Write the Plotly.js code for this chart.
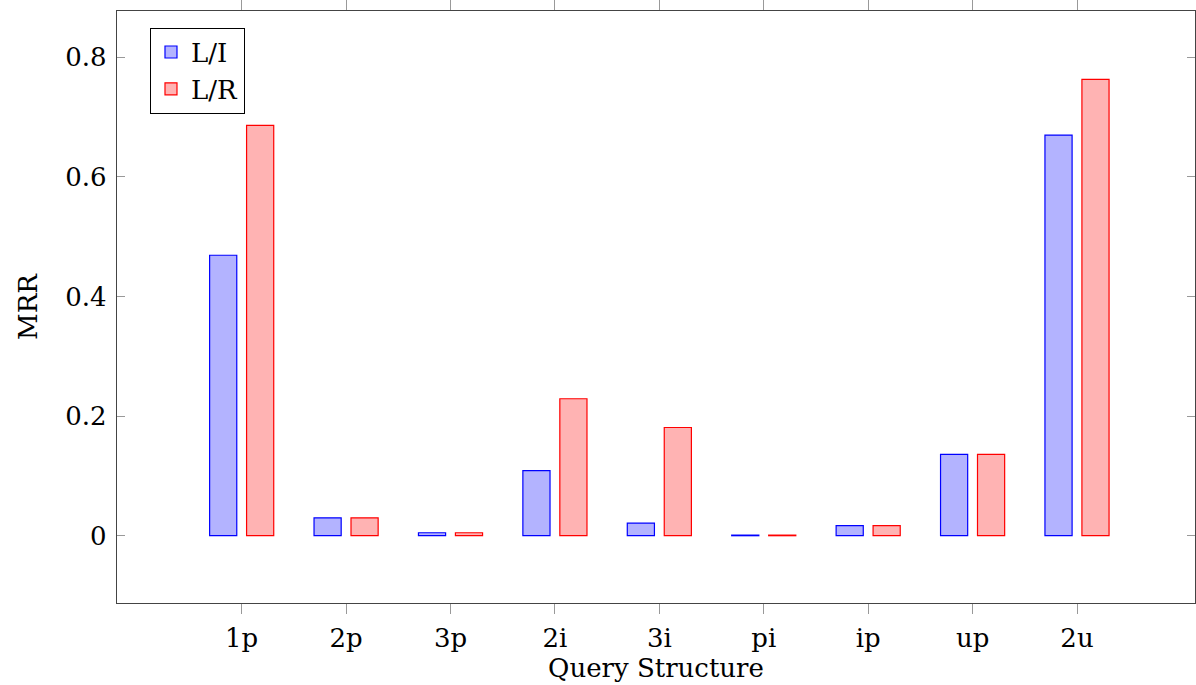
<!DOCTYPE html>
<html>
<head>
<meta charset="utf-8">
<script src="https://cdn.plot.ly/plotly-3.0.1.min.js"></script>
<style>html,body{margin:0;padding:0;background:#fff;}#chart{width:1196px;height:685px;}</style>
</head>
<body>
<div id="chart"></div>
<script>
const categories = ["1p", "2p", "3p", "2i", "3i", "pi", "ip", "up", "2u"];
const seriesNames = ["L/I", "L/R"];
const valuesLI = [0.469, 0.030, 0.005, 0.109, 0.021, 0.001, 0.017, 0.136, 0.670];
const valuesLR = [0.686, 0.030, 0.005, 0.229, 0.181, 0.001, 0.017, 0.136, 0.763];
const yTicks = [0, 0.2, 0.4, 0.6, 0.8];
const yTickLabels = ["0", "0.2", "0.4", "0.6", "0.8"];

const xIdx = categories.map((c, i) => i);
const FONT = "'DejaVu Serif', 'Liberation Serif', serif";
const FS = 26;

const traces = [
  {
    type: "bar", name: seriesNames[0], x: xIdx, y: valuesLI,
    width: 0.26, offset: -0.307,
    marker: {color: "rgb(179,179,255)", line: {color: "rgb(0,0,255)", width: 1.2}}
  },
  {
    type: "bar", name: seriesNames[1], x: xIdx, y: valuesLR,
    width: 0.26, offset: 0.047,
    marker: {color: "rgb(255,179,179)", line: {color: "rgb(255,0,0)", width: 1.2}}
  }
];

const layout = {
  width: 1196, height: 685,
  margin: {l: 117, r: 1, t: 11, b: 82, pad: 0},
  paper_bgcolor: "#fff", plot_bgcolor: "#fff",
  barmode: "overlay",
  showlegend: true,
  font: {family: FONT, size: FS, color: "#000"},
  legend: {
    x: 0.0306, y: 0.972, xanchor: "left", yanchor: "top",
    bordercolor: "#000", borderwidth: 1, bgcolor: "#fff",
    font: {family: FONT, size: FS, color: "#000"},
    itemwidth: 30, tracegroupgap: 0
  },
  xaxis: {
    range: [-1.194, 9.13],
    tickmode: "array", tickvals: xIdx, ticktext: categories,
    ticks: "outside", ticklen: 10, tickcolor: "#999", tickwidth: 1,
    showline: true, linecolor: "#444", linewidth: 1.2, mirror: "allticks",
    showgrid: false, zeroline: false,
    ticklabelstandoff: 2,
    tickfont: {family: FONT, size: FS, color: "#000"},
    title: {text: "Query Structure", standoff: 0, font: {family: FONT, size: FS, color: "#000"}}
  },
  yaxis: {
    range: [-0.1125, 0.8774],
    tickmode: "array", tickvals: yTicks, ticktext: yTickLabels,
    ticks: "inside", ticklen: 8, tickcolor: "#999", tickwidth: 1,
    showline: true, linecolor: "#444", linewidth: 1.2, mirror: "allticks",
    showgrid: false, zeroline: false,
    ticklabelstandoff: 4,
    tickfont: {family: FONT, size: FS, color: "#000"},
    title: {text: "MRR", standoff: 20, font: {family: FONT, size: FS, color: "#000"}}
  }
};

Plotly.newPlot("chart", traces, layout, {displayModeBar: false, staticPlot: true});
</script>
</body>
</html>
